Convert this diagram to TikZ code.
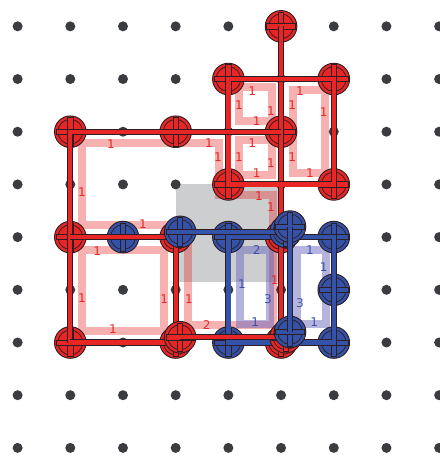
\documentclass[tikz,border=0pt]{standalone}
\usepackage{fontspec}
\setsansfont{DejaVu Sans}
\definecolor{legorot}{RGB}{232,38,38}
\definecolor{legoblau}{RGB}{52,82,168}
\definecolor{umriss}{RGB}{45,30,35}
\definecolor{punktgrau}{RGB}{58,60,64}
\definecolor{flaeche}{RGB}{205,206,208}
\definecolor{rotschrift}{RGB}{228,40,40}
\definecolor{blauschrift}{RGB}{60,80,170}
\definecolor{blauton}{RGB}{105,105,190}
\tikzset{
	noppe/.style={circle,draw=umriss,line width=0.5pt,fill=#1,minimum size=0.6cm,inner sep=0pt,
		path picture={
			\draw[umriss,line width=0.4pt] (path picture bounding box.center) circle (0.235);
			\begin{scope}[shift={(path picture bounding box.center)}]
				\filldraw[fill=#1,draw=umriss,line width=0.4pt] (-0.05,-0.27) rectangle (0.05,0.27);
				\filldraw[fill=#1,draw=umriss,line width=0.4pt] (-0.27,-0.05) rectangle (0.27,0.05);
				\fill[#1] (-0.043,-0.043) rectangle (0.043,0.043);
			\end{scope}
		}},
	balken/.style={draw=umriss,line width=0.5pt,double=#1,double distance=2.3pt},
	rotschleife/.style={draw=legorot,draw opacity=0.36,line width=4.3pt},
	blauschleife/.style={draw=blauton,draw opacity=0.5,line width=4.3pt},
	rotzahl/.style={text=rotschrift,font=\sffamily\fontsize{6.5}{7}\selectfont,inner sep=0pt},
	blauzahl/.style={text=blauschrift,font=\sffamily\fontsize{6.5}{7}\selectfont,inner sep=0pt},
}
\begin{document}
\begin{tikzpicture}
	\def\xAbstand{1cm}
	\def\yAbstand{\xAbstand}
	\def\xEbene{0.085cm}
	\def\yEbene{0.1cm}
	\useasboundingbox (-0.334,0.50) rectangle (8.015,-8.135);
	%
	\fill[flaeche] (3,-3) rectangle (5,-4.85);
	\foreach \i in {0,...,8}
		\foreach \j in {0,...,8}
			\fill[punktgrau] (\xAbstand*\i,-\yAbstand*\j) circle (0.095);
	%
	\draw[rotschleife] (1.22,-2.22) -- (3.82,-2.22) -- (3.82,-3.20) -- (4.85,-3.20) -- (4.85,-5.67) -- (3.23,-5.67) -- (3.23,-3.77) -- (1.22,-3.77) -- cycle;
	\draw[rotschleife] (1.22,-4.24) rectangle (2.78,-5.78);
	\draw[rotschleife] (4.2,-1.15) rectangle (4.83,-1.8);
	\draw[rotschleife] (4.2,-2.16) rectangle (4.83,-2.82);
	\draw[rotschleife] (5.23,-1.21) rectangle (5.84,-2.78);
	\draw[blauschleife] (4.22,-4.24) rectangle (4.79,-5.65);
	\draw[blauschleife] (5.30,-4.24) rectangle (5.85,-5.65);
	%
	\node[rotzahl] (rz1) at (1.77,-2.24) {1};
	\node[rotzahl] (rz2) at (3.63,-2.22) {1};
	\node[rotzahl] (rz3) at (3.80,-2.48) {1};
	\node[rotzahl] (rz4) at (4.58,-3.22) {1};
	\node[rotzahl] (rz5) at (4.81,-3.43) {1};
	\node[rotzahl] (rz6) at (4.88,-4.81) {1};
	\node[rotzahl] (rz7) at (3.59,-5.67) {2};
	\node[rotzahl] (rz8) at (3.25,-5.17) {1};
	\node[rotzahl] (rz9) at (2.38,-3.75) {1};
	\node[rotzahl] (rz10) at (1.22,-3.14) {1};
	%
	\node[rotzahl] (rz11) at (1.51,-4.26) {1};
	\node[rotzahl] (rz12) at (1.22,-5.16) {1};
	\node[rotzahl] (rz13) at (2.78,-5.17) {1};
	\node[rotzahl] (rz14) at (1.81,-5.74) {1};
	%
	\node[rotzahl] (rz15) at (4.45,-1.23) {1};
	\node[rotzahl] (rz16) at (4.20,-1.49) {1};
	\node[rotzahl] (rz17) at (4.81,-1.61) {1};
	\node[rotzahl] (rz18) at (4.54,-1.80) {1};
	\node[rotzahl] (rz19) at (4.45,-2.21) {1};
	\node[rotzahl] (rz20) at (4.20,-2.48) {1};
	\node[rotzahl] (rz21) at (4.81,-2.59) {1};
	\node[rotzahl] (rz22) at (4.54,-2.78) {1};
	\node[rotzahl] (rz23) at (5.36,-1.23) {1};
	\node[rotzahl] (rz24) at (5.21,-1.49) {1};
	\node[rotzahl] (rz25) at (5.81,-1.63) {1};
	\node[rotzahl] (rz26) at (5.21,-2.48) {1};
	\node[rotzahl] (rz27) at (5.55,-2.78) {1};
	%
	\node[blauzahl] (bz1) at (4.54,-4.24) {2};
	\node[blauzahl] (bz2) at (4.26,-4.89) {1};
	\node[blauzahl] (bz3) at (4.75,-5.17) {3};
	\node[blauzahl] (bz4) at (4.51,-5.61) {1};
	\node[blauzahl] (bz5) at (5.55,-4.24) {1};
	\node[blauzahl] (bz6) at (5.81,-4.57) {1};
	\node[blauzahl] (bz7) at (5.36,-5.25) {3};
	\node[blauzahl] (bz8) at (5.63,-5.61) {1};
	%
	% Ebene 0
	\node[noppe=legorot] (r50) at (\xAbstand*5,-\yAbstand*0) {};
	\node[noppe=legorot] (r41) at (\xAbstand*4,-\yAbstand*1) {};
	\node[noppe=legorot] (r61) at (\xAbstand*6,-\yAbstand*1) {};
	\node[noppe=legorot] (r12) at (\xAbstand*1,-\yAbstand*2) {};
	\node[noppe=legorot] (r32) at (\xAbstand*3,-\yAbstand*2) {};
	\node[noppe=legorot] (r52) at (\xAbstand*5,-\yAbstand*2) {};
	\node[noppe=legorot] (r43) at (\xAbstand*4,-\yAbstand*3) {};
	\node[noppe=legorot] (r63) at (\xAbstand*6,-\yAbstand*3) {};
	\node[noppe=legorot] (r14) at (\xAbstand*1,-\yAbstand*4) {};
	\node[noppe=legorot] (r34) at (\xAbstand*3,-\yAbstand*4) {};
	\node[noppe=legorot] (r54) at (\xAbstand*5,-\yAbstand*4) {};
	\node[noppe=legorot] (r16) at (\xAbstand*1,-\yAbstand*6) {};
	\node[noppe=legorot] (r36) at (\xAbstand*3,-\yAbstand*6) {};
	\node[noppe=legorot] (r56) at (\xAbstand*5,-\yAbstand*6) {};
	%
	\node[noppe=legoblau] (b24) at (\xAbstand*2,-\yAbstand*4) {};
	\node[noppe=legoblau] (b44) at (\xAbstand*4,-\yAbstand*4) {};
	\node[noppe=legoblau] (b64) at (\xAbstand*6,-\yAbstand*4) {};
	\node[noppe=legoblau] (b65) at (\xAbstand*6,-\yAbstand*5) {};
	\node[noppe=legoblau] (b46) at (\xAbstand*4,-\yAbstand*6) {};
	\node[noppe=legoblau] (b66) at (\xAbstand*6,-\yAbstand*6) {};
	%
	\draw[balken=legorot] (r50.center) -- (r56.center);
	\draw[balken=legorot] (r41.center) -- (r61.center) -- (r63.center) -- (r43.center) -- cycle;
	\draw[balken=legorot] (r16.center) -- (r12.center) -- (r52.center);
	\draw[balken=legorot] (r14.center) -- (r34.center) -- (r36.center) -- (r16.center);
	\draw[balken=legoblau] (b44.center) -- (b64.center) -- (b66.center) -- (b46.center) -- cycle;
	%
	% Ebene 1
	\node[noppe=legorot] (r36o) at (\xAbstand*3+\xEbene,-\yAbstand*6+\yEbene) {};
	\node[noppe=legorot] (r56o) at (\xAbstand*5+\xEbene,-\yAbstand*6+\yEbene) {};
	\node[noppe=legoblau] (b34o) at (\xAbstand*3+\xEbene,-\yAbstand*4+\yEbene) {};
	\node[noppe=legoblau] (b54o) at (\xAbstand*5+\xEbene,-\yAbstand*4+\yEbene) {};
	\draw[balken=legorot] (r36o.center) -- (r56o.center);
	\draw[balken=legoblau] (b34o.center) -- (b54o.center);
	%
	% Ebene 2
	\node[noppe=legoblau] (b54oo) at (\xAbstand*5+2*\xEbene,-\yAbstand*4+2*\yEbene) {};
	\node[noppe=legoblau] (b56oo) at (\xAbstand*5+2*\xEbene,-\yAbstand*6+2*\yEbene) {};
	\draw[balken=legoblau] (b54oo.center) -- (b56oo.center);
	%
\end{tikzpicture}
\end{document}
